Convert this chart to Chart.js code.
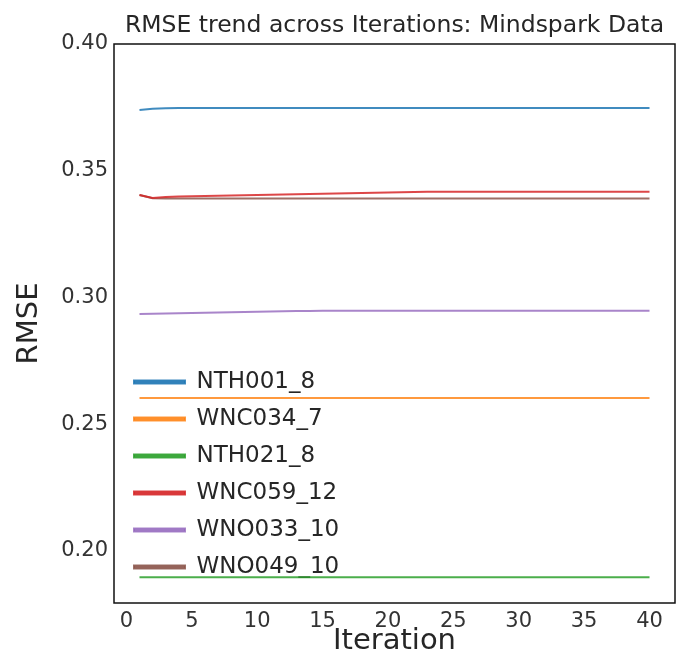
<!DOCTYPE html>
<html>
<head>
<meta charset="utf-8">
<title>RMSE trend across Iterations</title>
<script src="https://cdn.jsdelivr.net/npm/chart.js@4.4.1/dist/chart.umd.min.js"></script>
<style>
  html, body { margin: 0; padding: 0; background: #fff; }
  #chart { display: block; }
</style>
</head>
<body>
<canvas id="chart" width="682" height="668"></canvas>
<script>
// Data
const iterations = [1,2,3,4,5,6,7,8,9,10,11,12,13,14,15,16,17,18,19,20,
  21,22,23,24,25,26,27,28,29,30,31,32,33,34,35,36,37,38,39,40];

const nth001_8 = [0.3740,0.3745,0.3747,0.3748,0.3748,0.3748,0.3748,0.3748,0.3748,0.3748,
  0.3748,0.3748,0.3748,0.3748,0.3748,0.3748,0.3748,0.3748,0.3748,0.3748,
  0.3748,0.3748,0.3748,0.3748,0.3748,0.3748,0.3748,0.3748,0.3748,0.3748,
  0.3748,0.3748,0.3748,0.3748,0.3748,0.3748,0.3748,0.3748,0.3748,0.3748];

const wnc034_7 = [0.2604,0.2604,0.2604,0.2604,0.2604,0.2604,0.2604,0.2604,0.2604,0.2604,
  0.2604,0.2604,0.2604,0.2604,0.2604,0.2604,0.2604,0.2604,0.2604,0.2604,
  0.2604,0.2604,0.2604,0.2604,0.2604,0.2604,0.2604,0.2604,0.2604,0.2604,
  0.2604,0.2604,0.2604,0.2604,0.2604,0.2604,0.2604,0.2604,0.2604,0.2604];

const nth021_8 = [0.1897,0.1897,0.1897,0.1897,0.1897,0.1897,0.1897,0.1897,0.1897,0.1897,
  0.1897,0.1897,0.1897,0.1897,0.1897,0.1897,0.1897,0.1897,0.1897,0.1897,
  0.1897,0.1897,0.1897,0.1897,0.1897,0.1897,0.1897,0.1897,0.1897,0.1897,
  0.1897,0.1897,0.1897,0.1897,0.1897,0.1897,0.1897,0.1897,0.1897,0.1897];

const wnc059_12 = [0.3404,0.3393,0.3396,0.3398,0.3399,0.3400,0.3401,0.3402,0.3403,0.3404,
  0.3405,0.3406,0.3407,0.3408,0.3409,0.3410,0.3411,0.3412,0.3413,0.3414,
  0.3415,0.3416,0.3417,0.3417,0.3417,0.3417,0.3417,0.3417,0.3417,0.3417,
  0.3417,0.3417,0.3417,0.3417,0.3417,0.3417,0.3417,0.3417,0.3417,0.3417];

const wno033_10 = [0.2935,0.2936,0.2937,0.2938,0.2939,0.2940,0.2941,0.2942,0.2943,0.2944,
  0.2945,0.2946,0.2947,0.2947,0.2948,0.2948,0.2948,0.2948,0.2948,0.2948,
  0.2948,0.2948,0.2948,0.2948,0.2948,0.2948,0.2948,0.2948,0.2948,0.2948,
  0.2948,0.2948,0.2948,0.2948,0.2948,0.2948,0.2948,0.2948,0.2948,0.2948];

const wno049_10 = [0.3404,0.3392,0.3391,0.3391,0.3391,0.3391,0.3391,0.3391,0.3391,0.3391,
  0.3391,0.3391,0.3391,0.3391,0.3391,0.3391,0.3391,0.3391,0.3391,0.3391,
  0.3391,0.3391,0.3391,0.3391,0.3391,0.3391,0.3391,0.3391,0.3391,0.3391,
  0.3391,0.3391,0.3391,0.3391,0.3391,0.3391,0.3391,0.3391,0.3391,0.3391];

const seriesNames = ["NTH001_8", "WNC034_7", "NTH021_8", "WNC059_12", "WNO033_10", "WNO049_10"];
const seriesValues = [nth001_8, wnc034_7, nth021_8, wnc059_12, wno033_10, wno049_10];
// tab10, a bit faded like the picture
const seriesColors = ["rgba(31,119,180,0.85)", "rgba(255,127,14,0.8)", "rgba(44,160,44,0.85)",
  "rgba(214,39,40,0.85)", "rgba(148,103,189,0.8)", "rgba(140,86,75,0.85)"];

const xTickValues = [0, 5, 10, 15, 20, 25, 30, 35, 40];
const yTickValues = [0.20, 0.25, 0.30, 0.35, 0.40];

const FONT = "'DejaVu Sans', sans-serif";
const TEXT = "#262626";

// black box round the plot area, like matplotlib spines
const frame = {
  id: "frame",
  afterDatasetsDraw(chart) {
    const { ctx, chartArea: a } = chart;
    ctx.save();
    ctx.strokeStyle = "#111";
    ctx.lineWidth = 1.5;
    ctx.strokeRect(a.left, a.top, a.right - a.left, a.bottom - a.top);
    ctx.restore();
  }
};

// put the legend inside the plot, bottom left
const legendInside = {
  id: "legendInside",
  afterLayout(chart) {
    const lg = chart.legend;
    const pad = lg.options.labels.padding;
    const h = lg.bottom - lg.top;
    lg.left = 134 - pad;
    lg.top = 370.5 - pad;
    lg.bottom = lg.top + h;
  }
};

const datasets = seriesNames.map((name, i) => ({
  label: name,
  data: iterations.map((it, j) => ({ x: it, y: seriesValues[i][j] })),
  borderColor: seriesColors[i],
  backgroundColor: seriesColors[i],
  borderWidth: 2,
  pointRadius: 0,
  tension: 0
}));

new Chart(document.getElementById("chart").getContext("2d"), {
  type: "line",
  data: { datasets },
  options: {
    responsive: false,
    animation: false,
    layout: { padding: { left: 0, right: 7, top: 0, bottom: 0 } },
    plugins: {
      title: {
        display: true,
        text: "RMSE trend across Iterations: Mindspark Data",
        fullSize: false,
        color: TEXT,
        font: { family: FONT, size: 23.5, weight: "normal", lineHeight: 1.2 },
        padding: { top: 12, bottom: 3.8 }
      },
      legend: {
        position: "chartArea",
        align: "start",
        labels: {
          boxWidth: 51,
          boxHeight: 3,
          padding: 14,
          color: TEXT,
          font: { family: FONT, size: 23 }
        }
      },
      tooltip: { enabled: false }
    },
    scales: {
      x: {
        type: "linear",
        min: -0.95,
        max: 41.95,
        afterFit(scale) { scale.height = 65; },
        afterBuildTicks(scale) { scale.ticks = xTickValues.map(v => ({ value: v })); },
        grid: { display: false, drawTicks: false },
        border: { display: false },
        ticks: { color: "#333", padding: 6, maxRotation: 0, font: { family: FONT, size: 21 } },
        title: {
          display: true,
          text: "Iteration",
          color: TEXT,
          font: { family: FONT, size: 29 },
          padding: { top: 0, bottom: 9 }
        }
      },
      y: {
        min: 0.1795,
        max: 0.40,
        afterFit(scale) { scale.width = 114; },
        afterBuildTicks(scale) { scale.ticks = yTickValues.map(v => ({ value: v })); },
        grid: { display: false, drawTicks: false },
        border: { display: false },
        ticks: {
          color: "#333",
          padding: 6,
          font: { family: FONT, size: 21 },
          callback: v => v.toFixed(2)
        },
        title: {
          display: true,
          text: "RMSE",
          color: TEXT,
          font: { family: FONT, size: 29 },
          padding: { top: 12, bottom: 0 }
        }
      }
    }
  },
  plugins: [frame, legendInside]
});
</script>
</body>
</html>
